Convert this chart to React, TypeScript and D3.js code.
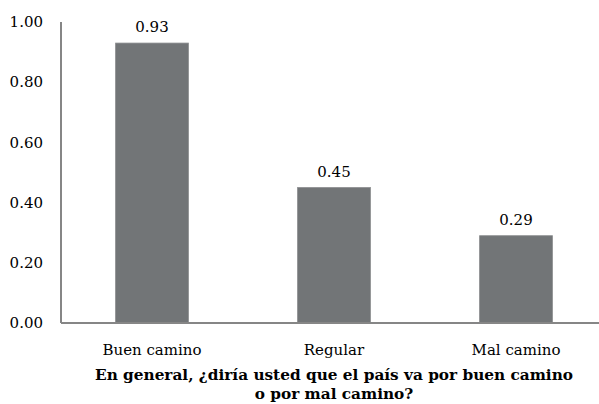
import React from "react";
import * as d3 from "d3";

const categories = ["Buen camino", "Regular", "Mal camino"];
const values = [0.93, 0.45, 0.29];
const yTicks = [0, 0.2, 0.4, 0.6, 0.8, 1.0];
const titleLines = ["En general, ¿diría usted que el país va por buen camino", "o por mal camino?"];

export default function App() {
  const W = 599, H = 404;
  const left = 61, right = 607, top = 22, bottom = 323;
  const x = d3.scaleBand<string>().domain(categories).range([left, right]).paddingInner(0.6).paddingOuter(0.3);
  const y = d3.scaleLinear().domain([0, 1]).range([bottom, top]);
  const font = "DejaVu Serif, serif";
  return (
    <svg width={W} height={H} style={{ position: "absolute", left: 0, top: 0, background: "#fff", fontFamily: font }}>
      {categories.map((c, i) => (
        <g key={c}>
          <rect x={x(c)!} y={y(values[i])} width={x.bandwidth()} height={bottom - y(values[i])} fill="#727577" stroke="#8a8c8e" strokeWidth={0.8} />
          <text x={x(c)! + x.bandwidth() / 2} y={y(values[i]) - 11} textAnchor="middle" fontSize={15} fill="#000">
            {values[i].toFixed(2)}
          </text>
          <text x={x(c)! + x.bandwidth() / 2} y={355} textAnchor="middle" fontSize={15} fill="#000">
            {c}
          </text>
        </g>
      ))}
      <line x1={left} x2={left} y1={top} y2={bottom} stroke="#868686" strokeWidth={2} />
      <line x1={left} x2={right} y1={bottom} y2={bottom} stroke="#868686" strokeWidth={2} />
      {yTicks.map((t) => (
        <text key={t} x={43} y={y(t)} dy="0.35em" textAnchor="end" fontSize={15} fill="#000">
          {t.toFixed(2)}
        </text>
      ))}
      {titleLines.map((l, i) => (
        <text key={i} x={(left + right) / 2} y={380 + i * 19} textAnchor="middle" fontSize={15.3} fontWeight="bold" fill="#000">
          {l}
        </text>
      ))}
    </svg>
  );
}
